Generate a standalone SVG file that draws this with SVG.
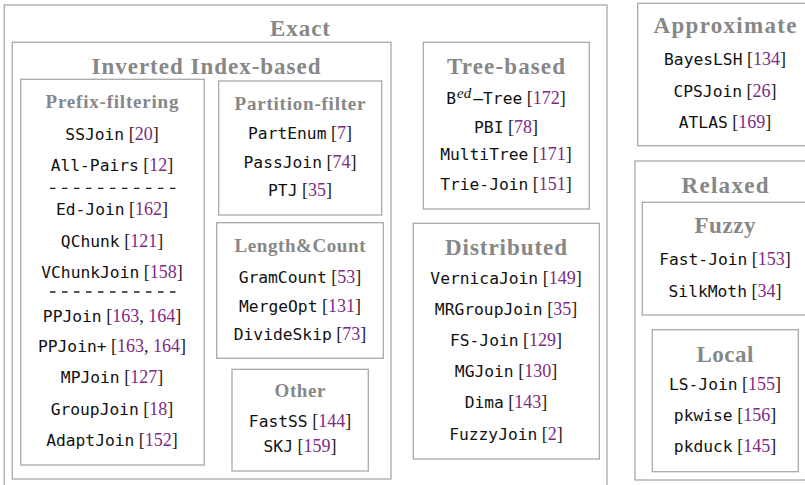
<svg xmlns="http://www.w3.org/2000/svg" width="805" height="485" viewBox="0 0 805 485">
<style>
.box{fill:none;stroke:#a9a9a9;stroke-width:1.3}
.t1{font-family:"Liberation Serif",serif;font-weight:bold;font-size:23px;fill:#878787;text-anchor:middle}
.t2{font-family:"Liberation Serif",serif;font-weight:bold;font-size:19px;fill:#878787;text-anchor:middle}
.it{font-family:"DejaVu Sans Mono","Liberation Mono",monospace;font-size:16.3px;fill:#111;text-anchor:middle}
.c{font-family:"Liberation Serif",serif;font-size:18px;fill:#1a1a1a}
.n{fill:#7d2a84}
.sup{font-family:"Liberation Serif",serif;font-style:italic;font-size:15px}
.dash{stroke:#222;stroke-width:1.3;stroke-dasharray:5.5 6.5}
</style>
<rect width="805" height="485" fill="#fff"/>
<g id="exact">
<rect class="box" x="4.3" y="5" width="602.7" height="490"/>
<text class="t1" x="300" y="36" textLength="60">Exact</text>
</g>
<g id="inverted-index">
<rect class="box" x="12.3" y="42.3" width="378.7" height="436.7"/>
<text class="t1" x="206" y="74" textLength="229">Inverted Index-based</text>
</g>
<g id="prefix-filtering">
<rect class="box" x="20.7" y="79.3" width="183.6" height="385.7"/>
<text class="t2" x="112" y="108" textLength="133">Prefix-filtering</text>
<text class="it" x="112" y="140">SSJoin<tspan class="c"> [<tspan class="n">20</tspan>]</tspan></text>
<text class="it" x="112" y="171">All-Pairs<tspan class="c"> [<tspan class="n">12</tspan>]</tspan></text>
<line class="dash" x1="50" y1="188.3" x2="175.5" y2="188.3"/>
<text class="it" x="112" y="215">Ed-Join<tspan class="c"> [<tspan class="n">162</tspan>]</tspan></text>
<text class="it" x="112" y="247">QChunk<tspan class="c"> [<tspan class="n">121</tspan>]</tspan></text>
<text class="it" x="112" y="278">VChunkJoin<tspan class="c"> [<tspan class="n">158</tspan>]</tspan></text>
<line class="dash" x1="50" y1="292" x2="175.5" y2="292"/>
<text class="it" x="112" y="322">PPJoin<tspan class="c"> [<tspan class="n">163</tspan>, <tspan class="n">164</tspan>]</tspan></text>
<text class="it" x="112" y="352">PPJoin+<tspan class="c"> [<tspan class="n">163</tspan>, <tspan class="n">164</tspan>]</tspan></text>
<text class="it" x="112" y="383">MPJoin<tspan class="c"> [<tspan class="n">127</tspan>]</tspan></text>
<text class="it" x="112" y="415">GroupJoin<tspan class="c"> [<tspan class="n">18</tspan>]</tspan></text>
<text class="it" x="112" y="446">AdaptJoin<tspan class="c"> [<tspan class="n">152</tspan>]</tspan></text>
</g>
<g id="partition-filter">
<rect class="box" x="218.7" y="81" width="163" height="134"/>
<text class="t2" x="300" y="110" textLength="131">Partition-filter</text>
<text class="it" x="300" y="139">PartEnum<tspan class="c"> [<tspan class="n">7</tspan>]</tspan></text>
<text class="it" x="300" y="168">PassJoin<tspan class="c"> [<tspan class="n">74</tspan>]</tspan></text>
<text class="it" x="300" y="196">PTJ<tspan class="c"> [<tspan class="n">35</tspan>]</tspan></text>
</g>
<g id="length-count">
<rect class="box" x="216.7" y="222.7" width="166.6" height="135.6"/>
<text class="t2" x="300" y="252" textLength="131">Length&amp;Count</text>
<text class="it" x="300" y="283">GramCount<tspan class="c"> [<tspan class="n">53</tspan>]</tspan></text>
<text class="it" x="300" y="312">MergeOpt<tspan class="c"> [<tspan class="n">131</tspan>]</tspan></text>
<text class="it" x="300" y="340">DivideSkip<tspan class="c"> [<tspan class="n">73</tspan>]</tspan></text>
</g>
<g id="other">
<rect class="box" x="232" y="369.3" width="136.3" height="101.7"/>
<text class="t2" x="300" y="397" textLength="51">Other</text>
<text class="it" x="300" y="427">FastSS<tspan class="c"> [<tspan class="n">144</tspan>]</tspan></text>
<text class="it" x="300" y="452">SKJ<tspan class="c"> [<tspan class="n">159</tspan>]</tspan></text>
</g>
<g id="tree-based">
<rect class="box" x="423.3" y="42.3" width="166" height="166.7"/>
<text class="t1" x="506" y="74" textLength="118">Tree-based</text>
<text class="it" x="506" y="104">B<tspan class="sup" dx="1" dy="-6">ed</tspan><tspan dx="2" dy="6">–Tree</tspan><tspan class="c"> [<tspan class="n">172</tspan>]</tspan></text>
<text class="it" x="506" y="133">PBI<tspan class="c"> [<tspan class="n">78</tspan>]</tspan></text>
<text class="it" x="506" y="160">MultiTree<tspan class="c"> [<tspan class="n">171</tspan>]</tspan></text>
<text class="it" x="506" y="190">Trie-Join<tspan class="c"> [<tspan class="n">151</tspan>]</tspan></text>
</g>
<g id="distributed">
<rect class="box" x="413.3" y="223.3" width="186" height="235.7"/>
<text class="t1" x="506" y="255" textLength="122">Distributed</text>
<text class="it" x="506" y="284">VernicaJoin<tspan class="c"> [<tspan class="n">149</tspan>]</tspan></text>
<text class="it" x="506" y="315">MRGroupJoin<tspan class="c"> [<tspan class="n">35</tspan>]</tspan></text>
<text class="it" x="506" y="346">FS-Join<tspan class="c"> [<tspan class="n">129</tspan>]</tspan></text>
<text class="it" x="506" y="377">MGJoin<tspan class="c"> [<tspan class="n">130</tspan>]</tspan></text>
<text class="it" x="506" y="408">Dima<tspan class="c"> [<tspan class="n">143</tspan>]</tspan></text>
<text class="it" x="506" y="440">FuzzyJoin<tspan class="c"> [<tspan class="n">2</tspan>]</tspan></text>
</g>
<g id="approximate">
<rect class="box" x="637.7" y="3.3" width="180" height="142.4"/>
<text class="t1" x="725" y="33" textLength="143">Approximate</text>
<text class="it" x="725" y="65">BayesLSH<tspan class="c"> [<tspan class="n">134</tspan>]</tspan></text>
<text class="it" x="725" y="97">CPSJoin<tspan class="c"> [<tspan class="n">26</tspan>]</tspan></text>
<text class="it" x="725" y="128">ATLAS<tspan class="c"> [<tspan class="n">169</tspan>]</tspan></text>
</g>
<g id="relaxed">
<rect class="box" x="635" y="161" width="180" height="319"/>
<text class="t1" x="725" y="193" textLength="87">Relaxed</text>
</g>
<g id="fuzzy">
<rect class="box" x="642.3" y="202.3" width="180" height="112.7"/>
<text class="t1" x="725" y="233" textLength="61">Fuzzy</text>
<text class="it" x="725" y="265">Fast-Join<tspan class="c"> [<tspan class="n">153</tspan>]</tspan></text>
<text class="it" x="725" y="297">SilkMoth<tspan class="c"> [<tspan class="n">34</tspan>]</tspan></text>
</g>
<g id="local">
<rect class="box" x="652.3" y="329.7" width="146" height="142"/>
<text class="t1" x="725" y="362" textLength="57">Local</text>
<text class="it" x="725" y="390">LS-Join<tspan class="c"> [<tspan class="n">155</tspan>]</tspan></text>
<text class="it" x="725" y="421">pkwise<tspan class="c"> [<tspan class="n">156</tspan>]</tspan></text>
<text class="it" x="725" y="452">pkduck<tspan class="c"> [<tspan class="n">145</tspan>]</tspan></text>
</g>
<g id="connectors"/>
</svg>
